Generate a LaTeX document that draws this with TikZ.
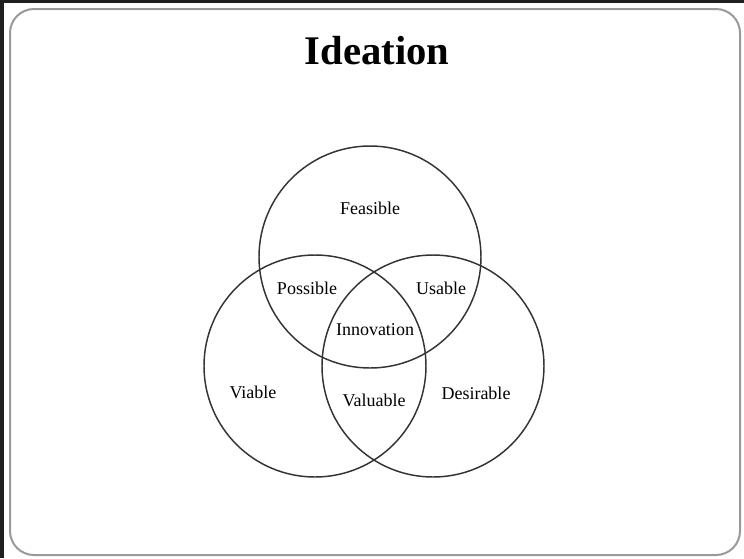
\documentclass[tikz,border=0pt]{standalone}
\usepackage{fontspec}
\setmainfont{Liberation Serif}
\begin{document}
\begin{tikzpicture}[x=0.75pt,y=-0.75pt,
  venn/.style={draw=black!80,line width=1.1pt},
  lbl/.style={font=\fontsize{13.5}{16}\selectfont,text=black,inner sep=0pt},
  frame/.style={draw=black!40,line width=1.5pt,rounded corners=18pt}]
\useasboundingbox (0,0) rectangle (744,558);
\fill[white] (0,0) rectangle (744,558);
\fill[black!88] (0,0) rectangle (744,3);
\fill[black!88] (0,0) rectangle (4,558);
\draw[frame] (10,9) rectangle (740,555);
\node[font=\fontsize{30.5}{34}\bfseries\selectfont,inner sep=0pt] (title) at (377,51) {Ideation};
\node[venn,circle,minimum size=222*0.75pt,inner sep=0pt] (top) at (370,257) {};
\node[venn,circle,minimum size=222*0.75pt,inner sep=0pt] (left) at (315,366) {};
\node[venn,circle,minimum size=222*0.75pt,inner sep=0pt] (right) at (433,366) {};
\node[lbl] (feasible) at (370,208) {Feasible};
\node[lbl] (possible) at (307,288) {Possible};
\node[lbl] (usable) at (441,288) {Usable};
\node[lbl] (innovation) at (375,330) {Innovation};
\node[lbl] (viable) at (253,392) {Viable};
\node[lbl] (valuable) at (374,400) {Valuable};
\node[lbl] (desirable) at (476,393) {Desirable};
\end{tikzpicture}
\end{document}
